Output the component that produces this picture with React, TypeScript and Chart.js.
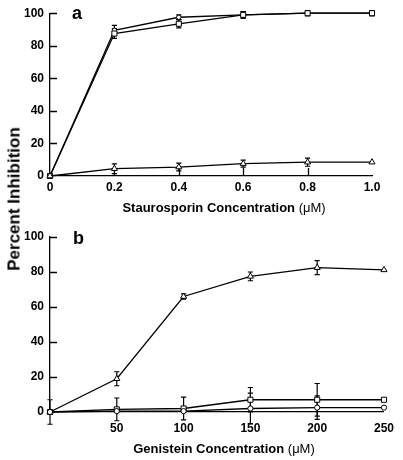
import React, { useEffect, useRef } from 'react';
import { Chart, registerables } from 'chart.js';

Chart.register(...registerables);

const FONT = '"Liberation Sans", Arial, Helvetica, sans-serif';

// ---------- shared ----------
const yAxisTitle = 'Percent Inhibition';
const percentTickValues = [0, 20, 40, 60, 80, 100];
const percentTickLabels = ['0', '20', '40', '60', '80', '100'];

// ---------- panel a : staurosporin ----------
const panelALetter = 'a';
const stauroTitle = 'Staurosporin Concentration';
const stauroUnit = '(\u03bcM)';
const stauroConc = [0, 0.2, 0.4, 0.6, 0.8, 1.0];
const stauroTickValues = [0, 0.2, 0.4, 0.6, 0.8, 1.0];
const stauroTickLabels = ['0', '0.2', '0.4', '0.6', '0.8', '1.0'];
const stauroTickMarks = [0.2, 0.4, 0.6, 0.8];
const stauroCircle = [0, 89.5, 97.5, 99, 100, 100];
const stauroCircleErr = [0, 3, 1.5, 2, 1.5, 1.5];
const stauroSquare = [0, 87.5, 93.5, 99, 100, 100];
const stauroSquareErr = [0, 3, 2.5, 2, 1.5, 1.5];
const stauroTriangle = [0, 4.5, 5.5, 7.6, 8.5, 8.5];
const stauroTriangleErr = [0, 3, 2.4, 2.2, 2.5, 0];

// ---------- panel b : genistein ----------
const panelBLetter = 'b';
const genTitle = 'Genistein Concentration';
const genUnit = '(\u03bcM)';
const genConc = [0, 50, 100, 150, 200, 250];
const genTickValues = [50, 100, 150, 200, 250];
const genTickLabels = ['50', '100', '150', '200', '250'];
const genTickMarks: number[] = [];
const genTriangle = [0, 19, 66, 77.5, 82.5, 81.2];
const genTriangleErr = [7, 4, 1.5, 2.5, 4, 0];
const genSquare = [0, 1.5, 2, 7, 7, 7];
const genSquareErr = [0, 6.5, 6.5, 7, 9.3, 0];
const genCircle = [0, 0.5, 0.5, 2, 2.5, 2.5];
const genCircleErr = [0, 0, 0, 8.8, 6.7, 0];

type SeriesDef = {
  values: number[];
  err: number[];
  style: 'circle' | 'rect' | 'triangle';
  radius: number;
};

type PanelDef = {
  xs: number[];
  series: SeriesDef[];
  xMax: number;
  xTickValues: number[];
  xTickLabels: string[];
  xTickMarks: number[];
  title: string;
  unit: string;
  letter: string;
  padTop: number;
  padRight: number;
  xAxisHeight: number;
  xTickPadding: number;
  titleBaseline: number;
  letterX: number;
  letterBaseline: number;
};

const errorBarPlugin = {
  id: 'errorBars',
  beforeDatasetsDraw(chart: any) {
    const ctx = chart.ctx;
    const xs = chart.scales.x;
    const ys = chart.scales.y;
    const cap = 2.6;
    ctx.save();
    ctx.strokeStyle = '#000';
    ctx.lineWidth = 1.2;
    chart.data.datasets.forEach((ds: any) => {
      const err: number[] = ds.errors;
      if (!err) return;
      ds.data.forEach((p: any, i: number) => {
        const e = err[i];
        if (!e) return;
        const x = xs.getPixelForValue(p.x);
        const yTop = ys.getPixelForValue(p.y + e);
        const yBot = ys.getPixelForValue(p.y - e);
        ctx.beginPath();
        ctx.moveTo(x, yTop);
        ctx.lineTo(x, yBot);
        ctx.moveTo(x - cap, yTop);
        ctx.lineTo(x + cap, yTop);
        ctx.moveTo(x - cap, yBot);
        ctx.lineTo(x + cap, yBot);
        ctx.stroke();
      });
    });
    ctx.restore();
  },
};

function makeDecorPlugin(def: PanelDef) {
  return {
    id: 'decor' + def.letter,
    beforeDatasetsDraw(chart: any) {
      const ctx = chart.ctx;
      const xs = chart.scales.x;
      const ys = chart.scales.y;
      const area = chart.chartArea;
      ctx.save();
      ctx.strokeStyle = '#000';
      ctx.lineWidth = 1.3;
      ctx.beginPath();
      percentTickValues.forEach((v) => {
        if (v === 0) return;
        const y = Math.round(ys.getPixelForValue(v)) + 0.5;
        ctx.moveTo(area.left, y);
        ctx.lineTo(area.left + 7, y);
      });
      def.xTickMarks.forEach((v) => {
        const x = Math.round(xs.getPixelForValue(v)) + 0.5;
        ctx.moveTo(x, area.bottom);
        ctx.lineTo(x, area.bottom - 8);
      });
      ctx.stroke();
      ctx.restore();
    },
    afterDraw(chart: any) {
      const ctx = chart.ctx;
      ctx.save();
      ctx.fillStyle = '#000';
      ctx.textBaseline = 'alphabetic';
      ctx.textAlign = 'left';
      // panel letter
      ctx.font = `bold 18px ${FONT}`;
      ctx.fillText(def.letter, def.letterX, def.letterBaseline);
      // axis title with mixed weight
      const boldFont = `bold 13px ${FONT}`;
      const normFont = `13px ${FONT}`;
      ctx.font = boldFont;
      const t1 = def.title + ' ';
      const w1 = ctx.measureText(t1).width;
      ctx.font = normFont;
      const w2 = ctx.measureText(def.unit).width;
      const cx = 224;
      const start = cx - (w1 + w2) / 2;
      ctx.font = boldFont;
      ctx.fillText(t1, start, def.titleBaseline);
      ctx.font = normFont;
      ctx.fillText(def.unit, start + w1, def.titleBaseline);
      ctx.restore();
    },
  };
}

function buildConfig(def: PanelDef): any {
  const datasets = def.series.map((s) => ({
    data: def.xs.map((x, i) => ({ x, y: s.values[i] })),
    errors: s.err,
    borderColor: '#000',
    borderWidth: 1.3,
    pointStyle: s.style,
    pointRadius: s.radius,
    pointHoverRadius: s.radius,
    pointBackgroundColor: '#fff',
    pointBorderColor: '#000',
    pointBorderWidth: 1,
    tension: 0,
    fill: false,
    clip: false,
  }));
  const tickFont = { family: FONT, size: 12, weight: 'bold' as const };
  return {
    type: 'line',
    data: { datasets },
    options: {
      animation: false,
      responsive: false,
      events: [],
      layout: { padding: { left: 0, top: def.padTop, right: def.padRight, bottom: 0 } },
      plugins: { legend: { display: false }, tooltip: { enabled: false }, title: { display: false } },
      scales: {
        x: {
          type: 'linear',
          min: 0,
          max: def.xMax,
          grid: { display: false, drawTicks: false },
          border: { display: true, color: '#000', width: 1.3 },
          afterBuildTicks: (scale: any) => {
            scale.ticks = def.xTickValues.map((v) => ({ value: v }));
          },
          afterFit: (scale: any) => {
            scale.height = def.xAxisHeight;
          },
          ticks: {
            color: '#000',
            font: tickFont,
            padding: def.xTickPadding,
            maxRotation: 0,
            autoSkip: false,
            callback: (v: number) => {
              const i = def.xTickValues.findIndex((t) => Math.abs(t - v) < 1e-9);
              return i >= 0 ? def.xTickLabels[i] : '';
            },
          },
        },
        y: {
          type: 'linear',
          min: 0,
          max: 100,
          grid: { display: false, drawTicks: false },
          border: { display: true, color: '#000', width: 1.3 },
          afterBuildTicks: (scale: any) => {
            scale.ticks = percentTickValues.map((v) => ({ value: v }));
          },
          afterFit: (scale: any) => {
            scale.width = 50;
          },
          ticks: {
            color: '#000',
            font: tickFont,
            padding: 6,
            autoSkip: false,
            callback: (v: number) => {
              const i = percentTickValues.indexOf(v);
              return i >= 0 ? percentTickLabels[i] : '';
            },
          },
        },
      },
    },
    plugins: [errorBarPlugin, makeDecorPlugin(def)],
  };
}

const panelA: PanelDef = {
  xs: stauroConc,
  series: [
    { values: stauroTriangle, err: stauroTriangleErr, style: 'triangle', radius: 3.5 },
    { values: stauroSquare, err: stauroSquareErr, style: 'rect', radius: 3.6 },
    { values: stauroCircle, err: stauroCircleErr, style: 'circle', radius: 2.2 },
  ],
  xMax: 1.0,
  xTickValues: stauroTickValues,
  xTickLabels: stauroTickLabels,
  xTickMarks: stauroTickMarks,
  title: stauroTitle,
  unit: stauroUnit,
  letter: panelALetter,
  padTop: 12,
  padRight: 31,
  xAxisHeight: 44,
  xTickPadding: 4,
  titleBaseline: 211.5,
  letterX: 72,
  letterBaseline: 18.5,
};

const panelB: PanelDef = {
  xs: genConc,
  series: [
    { values: genCircle, err: genCircleErr, style: 'circle', radius: 2.6 },
    { values: genSquare, err: genSquareErr, style: 'rect', radius: 3.6 },
    { values: genTriangle, err: genTriangleErr, style: 'triangle', radius: 3.5 },
  ],
  xMax: 250,
  xTickValues: genTickValues,
  xTickLabels: genTickLabels,
  xTickMarks: genTickMarks,
  title: genTitle,
  unit: genUnit,
  letter: panelBLetter,
  padTop: 17,
  padRight: 13,
  xAxisHeight: 48,
  xTickPadding: 9,
  titleBaseline: 233,
  letterX: 73,
  letterBaseline: 24,
};

function Panel({ def, top, height }: { def: PanelDef; top: number; height: number }) {
  const ref = useRef<HTMLCanvasElement>(null);
  useEffect(() => {
    const chart = new Chart(ref.current as HTMLCanvasElement, buildConfig(def));
    return () => chart.destroy();
  }, []);
  return (
    <canvas
      ref={ref}
      width={403}
      height={height}
      style={{ position: 'absolute', left: 0, top, width: 403, height, display: 'block' }}
    />
  );
}

export default function App() {
  return (
    <div style={{ position: 'absolute', left: 0, top: 0, width: 403, height: 460, background: '#fff', overflow: 'hidden' }}>
      <Panel def={panelA} top={0} height={220} />
      <Panel def={panelB} top={220} height={240} />
      <div
        style={{
          position: 'absolute',
          left: 14,
          top: 199,
          transform: 'translate(-50%, -50%) rotate(-90deg)',
          font: `bold 17px ${FONT}`,
          whiteSpace: 'nowrap',
          color: '#000',
          lineHeight: 1,
        }}
      >
        {yAxisTitle}
      </div>
    </div>
  );
}
